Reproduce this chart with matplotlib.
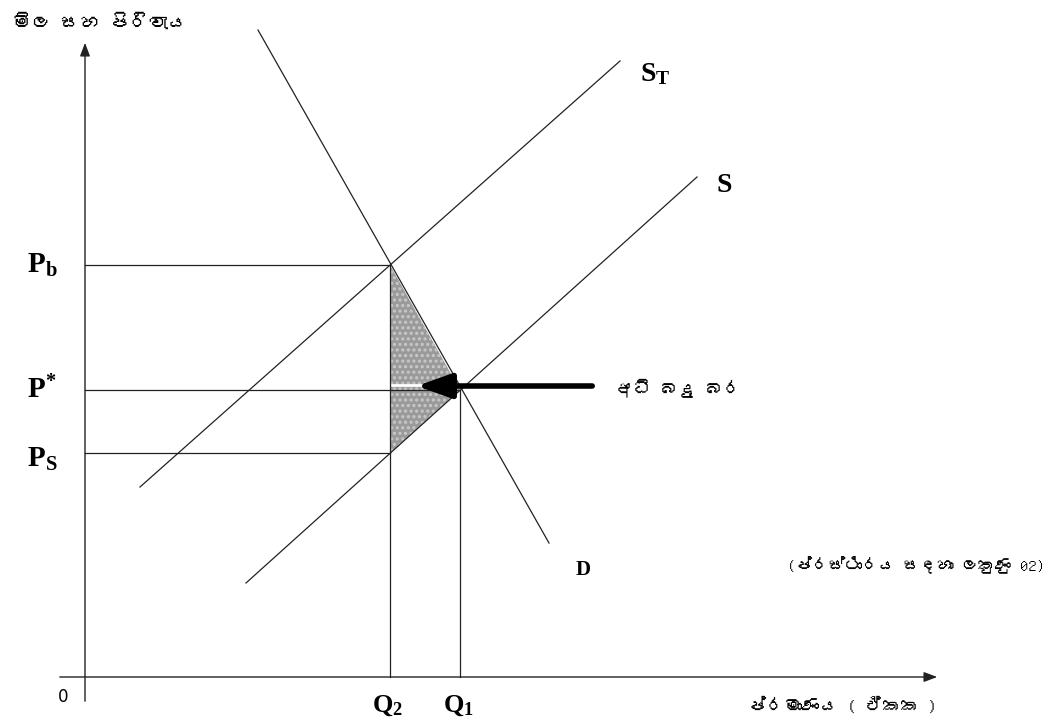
import matplotlib
matplotlib.use("Agg")
import matplotlib.pyplot as plt
from matplotlib import font_manager
from matplotlib.ft2font import FT2Font

### 데이터 (원점 = 축 교차점, 단위는 픽셀 기준 임의 단위)

q_labels = [r"$\mathbf{Q}_\mathbf{2}$", r"$\mathbf{Q}_\mathbf{1}$"]
q_values = [305, 375]          # Q2, Q1
p_labels = [r"$\mathbf{P}_\mathbf{b}$", r"$\mathbf{P}^\mathbf{*}$", r"$\mathbf{P}_\mathbf{S}$"]
p_values = [412, 287, 224]     # Pb, P*, Ps

# 곡선 양 끝점
d_x = [173, 464]
d_y = [647, 134]
s_x = [161, 612]
s_y = [94, 500]
st_x = [55, 535]
st_y = [190, 616]

y_label = "මිල සහ පිරිවැය"
x_label = "ප්රමාණය ( ඒකක )"
arrow_label = "අධි බදු බර"
note_label = "(ප්රස්ථාරය සඳහා ලකුණු 02)"


# 싱할라 문자를 가진 폰트 찾기
def find_font(ch):
    for f in font_manager.fontManager.ttflist:
        try:
            if ord(ch) in FT2Font(f.fname).get_charmap():
                return f.name
        except Exception:
            pass
    return None


sin_font = find_font("ම")
sin_family = [sin_font, "DejaVu Sans"] if sin_font else ["DejaVu Sans"]

plt.rcParams["mathtext.fontset"] = "custom"
plt.rcParams["mathtext.rm"] = "Liberation Serif:bold"
plt.rcParams["mathtext.bf"] = "Liberation Serif:bold"
plt.rcParams["mathtext.it"] = "Liberation Serif:bold"
plt.rcParams["hatch.linewidth"] = 1.5

fig = plt.figure(figsize=(10.53, 7.2), dpi=100)
ax = fig.add_axes([0, 0, 1, 1])
ax.set_xlim(-85, 968)
ax.set_ylim(-43, 677)
ax.axis("off")

line_kw = dict(color="#222222", lw=0.9)

# 축
ax.annotate("", xy=(855, 0), xytext=(-28, 0),
            arrowprops=dict(arrowstyle="-|>,head_length=0.8,head_width=0.3", color="#222222", lw=1.0, mutation_scale=10))
ax.annotate("", xy=(0, 637), xytext=(0, -27),
            arrowprops=dict(arrowstyle="-|>,head_length=0.8,head_width=0.3", color="#222222", lw=1.0, mutation_scale=10))

# 세금 부담 삼각형
pb, pstar, ps = p_values
q2, q1 = q_values
ax.fill([q2, q1, q2], [pb, pstar, ps], facecolor="#9a9a9a", edgecolor="#c9c9c9",
        hatch="...", lw=0, zorder=1)
ax.plot([q2 + 2, q2 + 32], [pstar + 5, pstar + 5], color="white", lw=2, zorder=2)

# 곡선
ax.plot(d_x, d_y, **line_kw)
ax.plot(s_x, s_y, **line_kw)
ax.plot(st_x, st_y, **line_kw)

# 가이드 선
ax.plot([0, q2], [pb, pb], **line_kw)
ax.plot([0, q1], [pstar, pstar], **line_kw)
ax.plot([0, q2], [ps, ps], **line_kw)
ax.plot([q2, q2], [0, pb], **line_kw)
ax.plot([q1, q1], [0, pstar], **line_kw)

# 두꺼운 화살표
ax.annotate("", xy=(q2 + 24, pstar + 4), xytext=(510, pstar + 4),
            arrowprops=dict(arrowstyle="-|>,head_length=2.1,head_width=0.75", color="black", lw=4, mutation_scale=10),
            zorder=3)

# 라벨
p_offsets = [0, 0, -6]
for p, lab, off in zip(p_values, p_labels, p_offsets):
    ax.text(-58, p + off, lab, fontsize=21, ha="left", va="center")
for q, lab in zip(q_values, q_labels):
    ax.text(q - 2, -28, lab, fontsize=19, ha="center", va="center")
ax.text(-22, -20, "0", fontsize=12, ha="center", va="center", family="DejaVu Sans")

ax.text(st_x[1] + 20, st_y[1] - 12, r"$\mathbf{S}_\mathbf{T}$", fontsize=20, ha="left", va="center")
ax.text(s_x[1] + 20, s_y[1] - 8, "S", fontsize=20, ha="left", va="center",
        family="Liberation Serif", weight="bold")
ax.text(d_x[1] + 27, d_y[1] - 27, "D", fontsize=15, ha="left", va="center",
        family="Liberation Serif", weight="bold")

ax.text(530, pstar + 2, arrow_label, fontsize=13, ha="left", va="center", family=sin_family)
ax.text(960, 112, note_label, fontsize=12, ha="right", va="center", family=sin_family)
ax.text(758, -28, x_label, fontsize=13, ha="center", va="center", family=sin_family)
ax.text(-73, 655, y_label, fontsize=14, ha="left", va="center", family=sin_family)

fig.savefig("out.png", dpi=100)
